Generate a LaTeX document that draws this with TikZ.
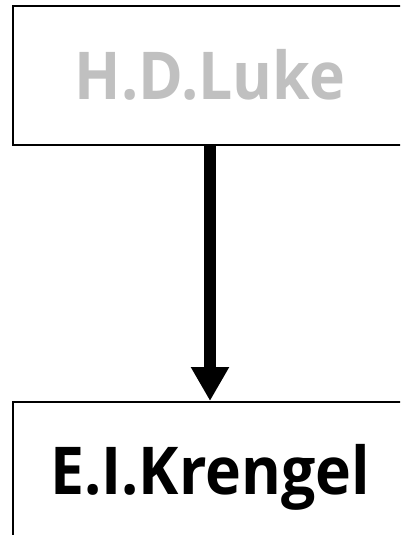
\documentclass[tikz,border=0pt]{standalone}
\usepackage{fontspec}
\setmainfont[FakeStretch=0.92]{Open Sans}
\usetikzlibrary{arrows.meta}
\definecolor{fadedgray}{HTML}{C0C0C0}
\tikzset{
  namebox/.style={draw=black, line width=2pt, rectangle, minimum width=394pt,
    minimum height=138pt, inner sep=0pt, font=\fontsize{66}{70}\selectfont\bfseries,
    text height=47pt, text depth=0pt},
  link/.style={line width=12pt, -{Triangle[width=36pt,length=34pt]}}
}
\begin{document}
\begin{tikzpicture}[x=1pt,y=1pt]
  \useasboundingbox (0,0) rectangle (400,-535);
  \clip (0,0) rectangle (400,-535);
  \node[namebox, text=fadedgray] (luke) at (210,-75.5) {H.D.Luke};
  \node[namebox, text=black] (krengel) at (210,-471) {E.I.Krengel};
  \draw[link] (luke.south) -- (krengel.north);
\end{tikzpicture}
\end{document}
